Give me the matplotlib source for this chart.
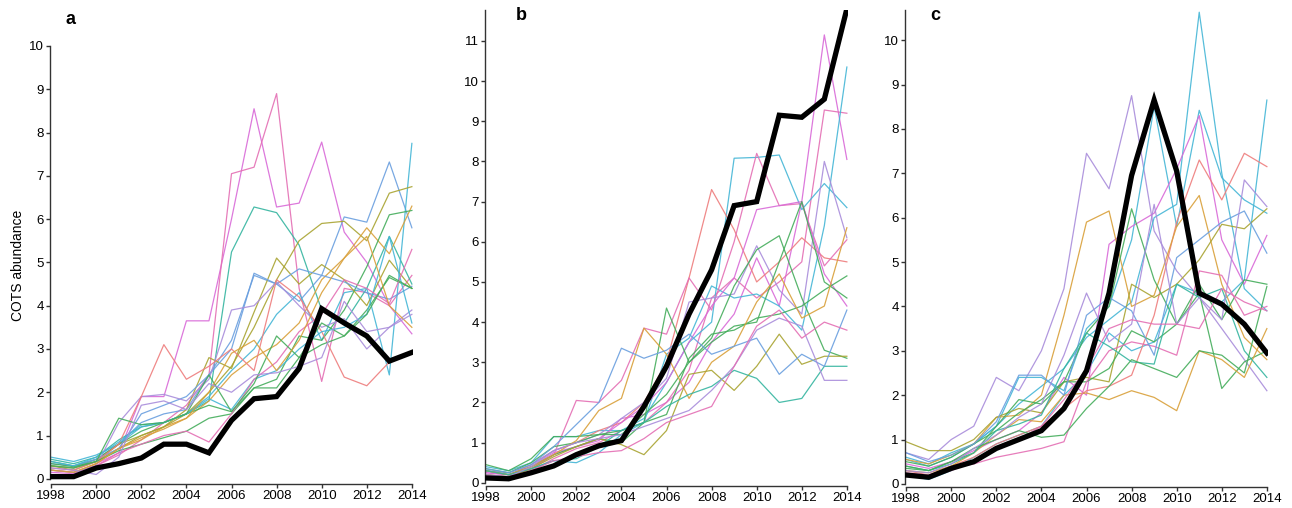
import matplotlib
matplotlib.use("Agg")
import matplotlib.pyplot as plt

plt.rcParams['font.family'] = ['Liberation Sans', 'DejaVu Sans']

years = list(range(1998, 2015))

# hue-like colours used by the ensemble members
PINK = '#e46fb4'
MAGENTA = '#d96ad8'
CYAN = '#45b6d6'
BLUE = '#6a9fdf'
GREEN = '#45ad5c'
OLIVE = '#a9a432'
ORANGE = '#d9a03a'
SALMON = '#ee7d7d'
PURPLE = '#a98ddb'
TEAL = '#35b5a0'

# ---- panel a ----
black_a = [0.05, 0.05, 0.25, 0.35, 0.48, 0.8, 0.8, 0.6, 1.35, 1.85, 1.9, 2.55, 3.93, 3.6, 3.3, 2.72, 2.92]
members_a = [
    [0.15, 0.12, 0.35, 0.6, 1.9, 1.9, 3.65, 3.65, 6.0, 8.55, 6.28, 6.37, 7.78, 5.7, 5.0, 4.0, 3.35],
    [0.2, 0.15, 0.3, 0.55, 0.9, 1.3, 1.7, 2.4, 7.05, 7.2, 8.9, 4.4, 2.25, 4.4, 4.3, 4.0, 4.7],
    [0.45, 0.35, 0.5, 0.9, 1.2, 1.3, 1.5, 1.8, 5.24, 6.28, 6.15, 5.4, 3.9, 3.6, 4.4, 5.6, 4.5],
    [0.3, 0.25, 0.45, 0.8, 1.3, 1.5, 1.6, 2.4, 3.2, 4.7, 4.5, 4.1, 4.7, 6.05, 5.93, 7.32, 5.8],
    [0.5, 0.4, 0.55, 0.8, 1.2, 1.3, 1.5, 1.9, 2.5, 3.0, 3.8, 4.3, 3.2, 4.3, 4.4, 2.4, 7.75],
    [0.3, 0.2, 0.4, 0.7, 1.0, 1.2, 1.5, 2.0, 2.6, 3.5, 4.6, 5.5, 5.9, 5.95, 5.5, 6.6, 6.75],
    [0.2, 0.15, 0.35, 0.7, 0.9, 1.2, 1.4, 1.8, 2.4, 2.8, 3.1, 3.6, 4.6, 5.1, 5.8, 5.2, 6.3],
    [0.4, 0.3, 0.45, 0.8, 1.1, 1.3, 1.5, 1.7, 1.55, 2.1, 2.3, 3.3, 3.2, 3.9, 4.9, 6.1, 6.2],
    [0.3, 0.25, 0.4, 0.8, 1.0, 1.2, 1.6, 2.8, 2.55, 3.85, 5.1, 4.5, 4.95, 4.6, 4.0, 5.05, 4.4],
    [0.35, 0.3, 0.45, 0.7, 1.5, 1.7, 1.9, 2.4, 3.0, 4.75, 4.5, 4.85, 4.7, 4.55, 4.3, 4.15, 4.45],
    [0.2, 0.15, 0.3, 1.3, 1.9, 1.95, 1.8, 2.3, 3.9, 4.0, 4.55, 4.0, 3.5, 3.7, 3.0, 3.5, 3.9],
    [0.25, 0.2, 0.4, 0.8, 1.9, 3.1, 2.3, 2.6, 3.0, 2.5, 4.6, 4.2, 3.4, 2.35, 2.15, 2.7, 2.9],
    [0.35, 0.28, 0.4, 0.65, 0.8, 0.95, 1.1, 1.4, 1.5, 2.1, 2.1, 2.8, 3.6, 3.3, 3.9, 4.65, 4.4],
    [0.4, 0.3, 0.5, 0.85, 1.25, 1.3, 1.5, 1.85, 1.6, 2.3, 2.5, 3.0, 3.4, 3.5, 3.8, 5.6, 3.6],
    [0.1, 0.1, 0.3, 0.6, 0.8, 1.0, 1.1, 0.85, 1.5, 2.3, 2.7, 3.4, 3.8, 4.6, 4.4, 4.05, 5.3],
    [0.3, 0.25, 0.4, 1.4, 1.25, 1.3, 1.5, 2.4, 1.55, 2.2, 3.3, 2.8, 3.1, 3.3, 3.8, 4.7, 4.4],
    [0.2, 0.15, 0.35, 0.7, 0.95, 1.15, 1.4, 2.0, 2.9, 3.2, 2.5, 3.2, 4.3, 5.1, 5.6, 4.0, 3.5],
    [0.25, 0.2, 0.1, 0.5, 1.7, 1.8, 1.6, 2.2, 2.0, 2.4, 2.45, 2.6, 2.8, 4.1, 3.4, 3.5, 3.8],
]
colors_a = [MAGENTA, PINK, TEAL, BLUE, CYAN, OLIVE, ORANGE, GREEN, OLIVE, BLUE,
            PURPLE, SALMON, GREEN, CYAN, PINK, GREEN, ORANGE, PURPLE]

# ---- panel b ----
black_b = [0.12, 0.1, 0.25, 0.42, 0.7, 0.92, 1.05, 1.9, 2.9, 4.2, 5.3, 6.9, 7.0, 9.15, 9.1, 9.55, 11.8]
members_b = [
    [0.25, 0.2, 0.35, 0.7, 0.9, 1.05, 1.6, 1.7, 2.0, 2.5, 3.5, 4.2, 5.6, 4.4, 7.0, 11.15, 8.05],
    [0.2, 0.15, 0.3, 0.6, 0.85, 1.0, 1.3, 1.5, 2.0, 2.8, 4.6, 5.1, 4.6, 5.0, 5.5, 9.28, 9.2],
    [0.3, 0.2, 0.35, 0.55, 0.5, 0.75, 1.2, 1.5, 3.2, 3.6, 4.9, 4.6, 4.7, 4.4, 3.8, 6.4, 10.35],
    [0.4, 0.3, 0.5, 1.15, 1.15, 1.3, 1.3, 1.6, 2.5, 3.5, 4.0, 8.08, 8.1, 8.16, 6.8, 7.45, 6.85],
    [0.3, 0.2, 0.45, 0.8, 1.0, 1.3, 1.5, 2.0, 3.0, 5.1, 7.3, 6.3, 5.0, 5.5, 6.1, 5.6, 5.5],
    [0.2, 0.15, 0.35, 0.7, 2.05, 2.0, 2.55, 3.85, 3.7, 5.1, 4.3, 6.0, 8.2, 6.9, 6.95, 5.4, 6.05],
    [0.25, 0.2, 0.4, 0.75, 0.9, 1.1, 1.5, 1.9, 2.5, 3.5, 4.4, 5.1, 6.8, 6.9, 7.0, 5.2, 4.4],
    [0.3, 0.25, 0.45, 0.8, 1.0, 1.2, 1.6, 2.0, 2.6, 4.5, 4.6, 4.7, 5.9, 4.8, 4.2, 8.0, 6.1],
    [0.45, 0.3, 0.6, 1.15, 1.15, 1.2, 1.3, 1.5, 4.35, 3.0, 3.6, 4.9, 5.8, 6.15, 4.6, 3.3, 3.1],
    [0.35, 0.25, 0.5, 0.9, 1.0, 1.2, 1.2, 1.7, 2.2, 3.0, 3.5, 3.9, 4.0, 5.5, 7.0, 5.0, 4.6],
    [0.3, 0.2, 0.4, 0.7, 0.9, 1.1, 1.0, 1.5, 1.7, 3.1, 3.7, 3.8, 4.1, 4.2, 4.4, 4.8, 5.15],
    [0.3, 0.2, 0.4, 0.7, 1.05, 1.8, 2.1, 3.85, 3.2, 2.1, 3.0, 3.4, 4.5, 5.2, 4.1, 4.4, 6.35],
    [0.2, 0.15, 0.35, 0.65, 0.9, 1.1, 0.95, 0.7, 1.3, 2.7, 2.8, 2.3, 2.9, 3.7, 2.95, 3.15, 3.15],
    [0.3, 0.2, 0.35, 0.55, 0.6, 0.9, 1.3, 1.5, 1.9, 2.2, 2.4, 2.8, 2.6, 2.0, 2.1, 2.9, 2.9],
    [0.35, 0.25, 0.45, 0.9, 1.45, 2.0, 3.35, 3.1, 3.3, 3.7, 3.2, 3.4, 3.6, 2.7, 3.2, 2.9, 4.3],
    [0.2, 0.15, 0.4, 0.8, 1.0, 1.1, 1.2, 1.4, 1.6, 1.8, 2.3, 2.9, 3.8, 4.1, 3.9, 2.55, 2.55],
    [0.15, 0.1, 0.3, 0.55, 0.65, 0.75, 0.8, 1.1, 1.5, 1.7, 1.9, 2.9, 3.9, 4.3, 3.6, 4.0, 3.8],
]
colors_b = [MAGENTA, PINK, CYAN, CYAN, SALMON, PINK, MAGENTA, PURPLE, GREEN, GREEN,
            GREEN, ORANGE, OLIVE, TEAL, BLUE, PURPLE, PINK]

# ---- panel c ----
black_c = [0.2, 0.15, 0.35, 0.5, 0.8, 1.0, 1.2, 1.7, 2.55, 4.3, 6.95, 8.65, 7.05, 4.3, 4.05, 3.6, 2.95]
members_c = [
    [0.7, 0.55, 1.0, 1.3, 2.4, 2.1, 3.0, 4.4, 7.45, 6.65, 8.75, 5.7, 4.8, 4.2, 3.5, 2.8, 2.1],
    [0.6, 0.45, 0.7, 0.9, 1.3, 1.8, 2.2, 2.6, 3.3, 3.7, 4.1, 6.0, 6.3, 10.63, 7.0, 4.4, 3.9],
    [0.55, 0.4, 0.6, 0.9, 1.3, 2.4, 2.4, 2.1, 3.5, 4.0, 5.5, 8.5, 5.8, 8.42, 6.9, 6.4, 6.1],
    [0.2, 0.1, 0.3, 0.6, 0.9, 1.1, 1.3, 2.0, 2.5, 3.4, 3.0, 3.2, 4.5, 4.3, 4.1, 4.6, 8.65],
    [0.45, 0.35, 0.5, 0.75, 1.0, 1.2, 1.6, 2.4, 2.0, 5.4, 5.8, 6.1, 7.1, 8.3, 5.5, 4.5, 5.6],
    [0.3, 0.2, 0.4, 0.6, 0.9, 1.1, 1.3, 1.7, 2.1, 2.2, 2.45, 3.8, 5.9, 7.3, 6.4, 7.45, 7.15],
    [0.55, 0.45, 0.65, 0.9, 1.5, 1.55, 2.0, 3.8, 5.9, 6.15, 4.0, 4.25, 5.8, 6.5, 4.5, 3.3, 2.8],
    [0.95, 0.75, 0.75, 1.0, 1.5, 1.7, 1.6, 2.3, 2.4, 2.3, 4.5, 4.2, 4.5, 5.05, 5.85, 5.75, 6.2],
    [0.5, 0.4, 0.6, 0.9, 1.2, 1.6, 1.9, 2.3, 3.4, 4.0, 6.2, 4.6, 3.6, 4.5, 3.7, 4.6, 4.5],
    [0.35, 0.3, 0.5, 0.7, 1.3, 1.9, 1.8, 2.3, 2.3, 2.6, 3.45, 3.2, 3.6, 4.3, 2.15, 2.75, 3.0],
    [0.3, 0.25, 0.4, 0.7, 1.1, 1.45, 1.4, 2.0, 2.05, 1.9, 2.1, 1.95, 1.65, 3.0, 2.8, 2.4, 3.5],
    [0.25, 0.2, 0.35, 0.45, 0.6, 0.7, 0.8, 0.95, 2.3, 3.0, 3.2, 3.1, 2.9, 4.8, 4.7, 3.8, 4.0],
    [0.7, 0.5, 0.65, 0.9, 1.4, 2.45, 2.45, 2.0, 3.8, 4.2, 3.9, 2.9, 5.1, 5.5, 5.9, 6.15, 5.2],
    [0.4, 0.3, 0.45, 0.7, 1.2, 1.35, 1.55, 2.6, 3.4, 3.1, 2.75, 2.7, 4.5, 4.2, 4.4, 3.0, 2.4],
    [0.4, 0.3, 0.5, 0.8, 1.0, 1.2, 1.05, 1.1, 1.7, 2.2, 2.8, 2.6, 2.4, 3.0, 2.9, 2.5, 4.45],
    [0.3, 0.25, 0.45, 0.8, 1.1, 1.5, 1.8, 2.9, 4.3, 3.2, 3.6, 6.3, 3.6, 4.2, 3.7, 6.85, 6.25],
    [0.2, 0.15, 0.3, 0.5, 0.8, 1.0, 1.3, 1.9, 2.6, 3.5, 3.7, 3.6, 3.6, 3.5, 4.4, 4.1, 3.9],
]
colors_c = [PURPLE, CYAN, CYAN, CYAN, MAGENTA, SALMON, ORANGE, OLIVE, GREEN, GREEN,
            ORANGE, PINK, BLUE, TEAL, GREEN, PURPLE, PINK]

# label, black line, members, colours, (left px, axis-line px, top px), ylim, yticks, spine top, label px
panels = [
    ('a', black_a, members_a, colors_a, (50, 484, 46), (-0.12, 10.0), range(0, 11), 10, (65, 20)),
    ('b', black_b, members_b, colors_b, (485, 486, 10), (-0.08, 11.77), range(0, 12), 11.77, (516, 15)),
    ('c', black_c, members_c, colors_c, (905, 487, 10), (-0.07, 10.68), range(0, 11), 10.68, (930, 15)),
]

W, H = 1292, 508
fig = plt.figure(figsize=(W / 100, H / 100), dpi=100)

for label, black, members, colors, (x0, ybot, ytop), ylim, yticks, ymax, (lx, ly) in panels:
    ax = fig.add_axes([x0 / W, (H - ybot) / H, 363 / W, (ybot - ytop) / H])
    for vals, col in zip(members, colors):
        ax.plot(years, vals, color=col, lw=0.9, alpha=0.9)
    ax.plot(years, black, color='black', lw=3.8, solid_joinstyle='miter', zorder=5)

    ax.set_xlim(1997.95, 2014.05)
    ax.set_ylim(*ylim)
    ax.set_xticks(range(1998, 2015, 2))
    ax.set_yticks(list(yticks))
    for s in ['top', 'right']:
        ax.spines[s].set_visible(False)
    for s in ['left', 'bottom']:
        ax.spines[s].set_color('#333333')
        ax.spines[s].set_linewidth(1.0)
    ax.spines['left'].set_bounds(0, ymax)
    ax.spines['bottom'].set_bounds(1998, 2014)
    ax.tick_params(direction='out', length=3, width=1, colors='#333333',
                   labelsize=9.5, labelcolor='black', pad=1.5)
    fig.text(lx / W, (H - ly) / H, label, fontsize=13, fontweight='bold', va='center')
    if label == 'a':
        ax.set_ylabel('COTS abundance', fontsize=10, labelpad=3)

fig.savefig('out.png', dpi=100)
